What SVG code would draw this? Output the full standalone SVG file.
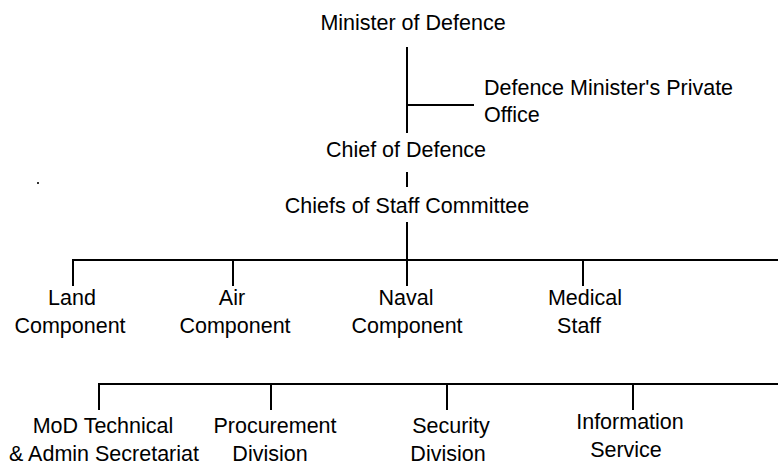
<svg xmlns="http://www.w3.org/2000/svg" width="778" height="461" viewBox="0 0 778 461">
<style>
text{font-family:"Liberation Sans",Arial,sans-serif;font-size:21.5px;fill:#000}
.c{text-anchor:middle}
.ln{stroke:#000;stroke-width:2;fill:none}
</style>
<rect width="778" height="461" fill="#fff"/>
<g id="connectors">
<line class="ln" x1="407" y1="47" x2="407" y2="133"/>
<line class="ln" x1="406" y1="105" x2="474" y2="105"/>
<line class="ln" x1="407" y1="172" x2="407" y2="187"/>
<line class="ln" x1="407" y1="222" x2="407" y2="260"/>
<line class="ln" x1="72" y1="260" x2="778" y2="260"/>
<line class="ln" x1="73" y1="259" x2="73" y2="286"/>
<line class="ln" x1="233" y1="260" x2="233" y2="286"/>
<line class="ln" x1="407" y1="260" x2="407" y2="286"/>
<line class="ln" x1="583" y1="260" x2="583" y2="286"/>
<line class="ln" x1="98" y1="384" x2="778" y2="384"/>
<line class="ln" x1="99" y1="383" x2="99" y2="410"/>
<line class="ln" x1="271" y1="384" x2="271" y2="410"/>
<line class="ln" x1="447" y1="384" x2="447" y2="410"/>
<line class="ln" x1="633" y1="384" x2="633" y2="410"/>
</g>
<rect x="37" y="182" width="2" height="2" fill="#333"/>
<g id="minister"><text class="c" x="413" y="30">Minister of Defence</text></g>
<g id="private-office"><text x="484" y="95">Defence Minister's Private</text><text x="484" y="122">Office</text></g>
<g id="chief"><text class="c" x="406" y="157">Chief of Defence</text></g>
<g id="committee"><text class="c" x="407" y="213">Chiefs of Staff Committee</text></g>
<g id="land"><text class="c" x="72" y="305">Land</text><text class="c" x="70" y="333">Component</text></g>
<g id="air"><text class="c" x="232" y="305">Air</text><text class="c" x="235" y="333">Component</text></g>
<g id="naval"><text class="c" x="406" y="305">Naval</text><text class="c" x="407" y="333">Component</text></g>
<g id="medical"><text class="c" x="585" y="305">Medical</text><text class="c" x="579" y="333">Staff</text></g>
<g id="mod-tech"><text class="c" x="103" y="433">MoD Technical</text><text class="c" x="104" y="461">&amp; Admin Secretariat</text></g>
<g id="procurement"><text class="c" x="275" y="433">Procurement</text><text class="c" x="270" y="461">Division</text></g>
<g id="security"><text class="c" x="451" y="433">Security</text><text class="c" x="448" y="461">Division</text></g>
<g id="information"><text class="c" x="630" y="429">Information</text><text class="c" x="626" y="457">Service</text></g>
</svg>
